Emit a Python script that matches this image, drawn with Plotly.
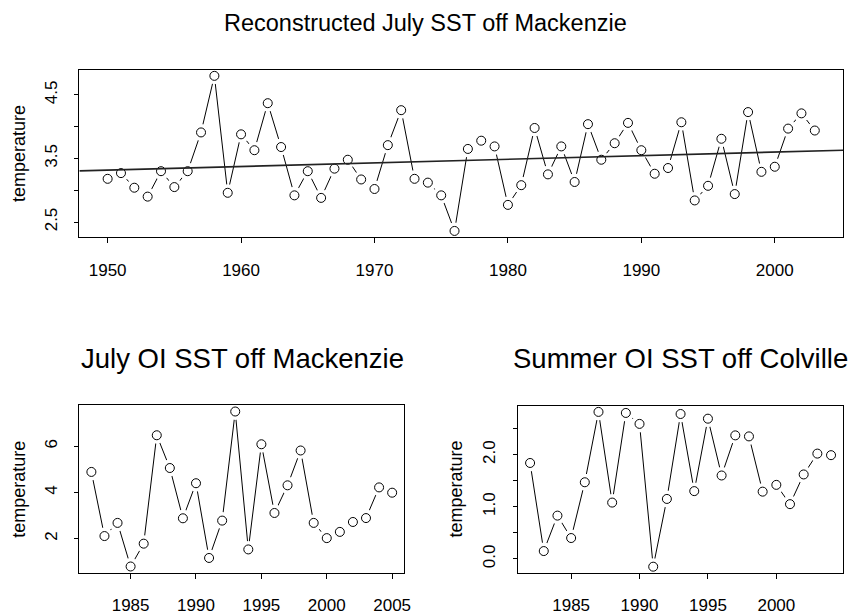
import numpy as np
import plotly.graph_objects as go

# ---------------- data ----------------
recon_years = list(range(1950, 2004))
recon_sst = [3.18, 3.27, 3.04, 2.90, 3.30, 3.05, 3.30, 3.91, 4.80, 2.96,
             3.88, 3.63, 4.37, 3.68, 2.92, 3.30, 2.88, 3.34, 3.48, 3.17,
             3.02, 3.71, 4.26, 3.18, 3.12, 2.92, 2.36, 3.65, 3.78, 3.69,
             2.77, 3.08, 3.98, 3.25, 3.69, 3.13, 4.04, 3.48, 3.74, 4.06,
             3.63, 3.26, 3.35, 4.07, 2.84, 3.07, 3.81, 2.94, 4.23, 3.29,
             3.37, 3.97, 4.21, 3.94]

oi_mack_years = list(range(1982, 2006))
oi_mack_sst = [4.89, 2.11, 2.68, 0.79, 1.78, 6.48, 5.06, 2.88, 4.40, 1.16,
               2.78, 7.51, 1.53, 6.09, 3.11, 4.31, 5.82, 2.68, 2.02, 2.29,
               2.72, 2.89, 4.22, 3.99]

oi_colv_years = list(range(1982, 2005))
oi_colv_sst = [1.84, 0.15, 0.83, 0.40, 1.47, 2.82, 1.08, 2.80, 2.59, -0.15,
               1.15, 2.78, 1.30, 2.69, 1.60, 2.37, 2.35, 1.29, 1.42, 1.05,
               1.62, 2.02, 1.99]

titles = ["Reconstructed July SST off Mackenzie",
          "July OI SST off Mackenzie",
          "Summer OI SST off Colville"]
y_label = "temperature"

top_xticks = [1950, 1960, 1970, 1980, 1990, 2000]
top_yticks = [2.5, 3.0, 3.5, 4.0, 4.5]
top_ytext = ["2.5", "", "3.5", "", "4.5"]
bl_xticks = [1985, 1990, 1995, 2000, 2005]
bl_yticks = [2, 4, 6]
bl_ytext = ["2", "4", "6"]
br_xticks = [1985, 1990, 1995, 2000]
br_yticks = [0.0, 0.5, 1.0, 1.5, 2.0, 2.5]
br_ytext = ["0.0", "", "1.0", "", "2.0", ""]

# ---------------- helpers ----------------
FONT = "Liberation Sans, Arial, sans-serif"
W, H = 860, 615


def r_range(v):
    lo, hi = min(v), max(v)
    pad = 0.04 * (hi - lo)
    return [lo - pad, hi + pad]


def add_series(fig, xs, ys, xa, ya):
    # connecting line
    fig.add_trace(go.Scatter(x=xs, y=ys, mode="lines", xaxis=xa, yaxis=ya,
                             line=dict(color="black", width=1),
                             hoverinfo="skip", showlegend=False))
    # white halo to create R type="b" gaps
    fig.add_trace(go.Scatter(x=xs, y=ys, mode="markers", xaxis=xa, yaxis=ya,
                             marker=dict(size=17, color="white", line=dict(width=0)),
                             hoverinfo="skip", showlegend=False))
    # open circles
    fig.add_trace(go.Scatter(x=xs, y=ys, mode="markers", xaxis=xa, yaxis=ya,
                             marker=dict(size=9, color="white", symbol="circle",
                                         line=dict(color="black", width=1)),
                             showlegend=False))


fig = go.Figure()

add_series(fig, recon_years, recon_sst, "x", "y")
add_series(fig, oi_mack_years, oi_mack_sst, "x2", "y2")
add_series(fig, oi_colv_years, oi_colv_sst, "x3", "y3")

# linear trend on reconstructed series (abline(lm))
slope, intercept = np.polyfit(recon_years, recon_sst, 1)
top_xr = r_range(recon_years)
fig.add_trace(go.Scatter(x=top_xr, y=[intercept + slope * v for v in top_xr],
                         mode="lines", xaxis="x", yaxis="y",
                         line=dict(color="#222222", width=1.6),
                         hoverinfo="skip", showlegend=False))


def px_dom(a, b, total):
    return [a / total, b / total]


def py_dom(top, bottom):
    return [1 - bottom / H, 1 - top / H]


common_x = dict(showline=True, mirror=True, linecolor="black", linewidth=1,
                ticks="outside", ticklen=5, tickcolor="black", tickwidth=1,
                showgrid=False, zeroline=False,
                tickfont=dict(family=FONT, size=17, color="black"),
                ticklabelstandoff=12)
common_y = dict(showline=True, mirror=True, linecolor="black", linewidth=1,
                ticks="outside", ticklen=4, tickcolor="black", tickwidth=1,
                showgrid=False, zeroline=False, tickangle=-90,
                tickfont=dict(family=FONT, size=17, color="black"),
                ticklabelstandoff=11)

fig.update_layout(
    width=W, height=H,
    margin=dict(l=0, r=0, t=0, b=0),
    paper_bgcolor="white", plot_bgcolor="white",
    showlegend=False,
    xaxis=dict(common_x, domain=px_dom(80, 850, W), range=top_xr,
               tickvals=top_xticks, ticktext=[str(v) for v in top_xticks],
               anchor="y"),
    yaxis=dict(common_y, domain=py_dom(70, 238.3), range=r_range(recon_sst),
               tickvals=top_yticks, ticktext=top_ytext, anchor="x"),
    xaxis2=dict(common_x, domain=px_dom(80, 407.5, W), range=r_range(oi_mack_years),
                tickvals=bl_xticks, ticktext=[str(v) for v in bl_xticks],
                anchor="y2"),
    yaxis2=dict(common_y, domain=py_dom(407.3, 575.5), range=r_range(oi_mack_sst),
                tickvals=bl_yticks, ticktext=bl_ytext, anchor="x2"),
    xaxis3=dict(common_x, domain=px_dom(522.3, 850, W), range=r_range(oi_colv_years),
                tickvals=br_xticks, ticktext=[str(v) for v in br_xticks],
                anchor="y3"),
    yaxis3=dict(common_y, domain=py_dom(407.7, 575.7), range=r_range(oi_colv_sst),
                tickvals=br_yticks, ticktext=br_ytext, anchor="x3"),
)

ann = []
ann.append(dict(text=titles[0], x=429 / W, y=1 - 23 / H, xref="paper", yref="paper",
                xanchor="center", yanchor="middle", showarrow=False,
                font=dict(family=FONT, size=23.5, color="black")))
ann.append(dict(text=titles[1], x=244 / W, y=1 - 360.5 / H, xref="paper", yref="paper",
                xanchor="center", yanchor="middle", showarrow=False,
                font=dict(family=FONT, size=27.5, color="black")))
ann.append(dict(text=titles[2], x=686 / W, y=1 - 360.5 / H, xref="paper", yref="paper",
                xanchor="center", yanchor="middle", showarrow=False,
                font=dict(family=FONT, size=27.5, color="black")))
for xc, yc in [(19, 154), (19, 491.4), (460, 491.7)]:
    ann.append(dict(text=y_label, x=xc / W, y=1 - yc / H, xref="paper", yref="paper",
                    xanchor="center", yanchor="middle", showarrow=False, textangle=-90,
                    font=dict(family=FONT, size=18, color="black")))
fig.update_layout(annotations=ann)

fig.write_html("out.html",
               config={"displayModeBar": False},
               post_script="document.body.style.margin='0';document.body.style.padding='0';"
                           "document.body.style.overflow='hidden';")
